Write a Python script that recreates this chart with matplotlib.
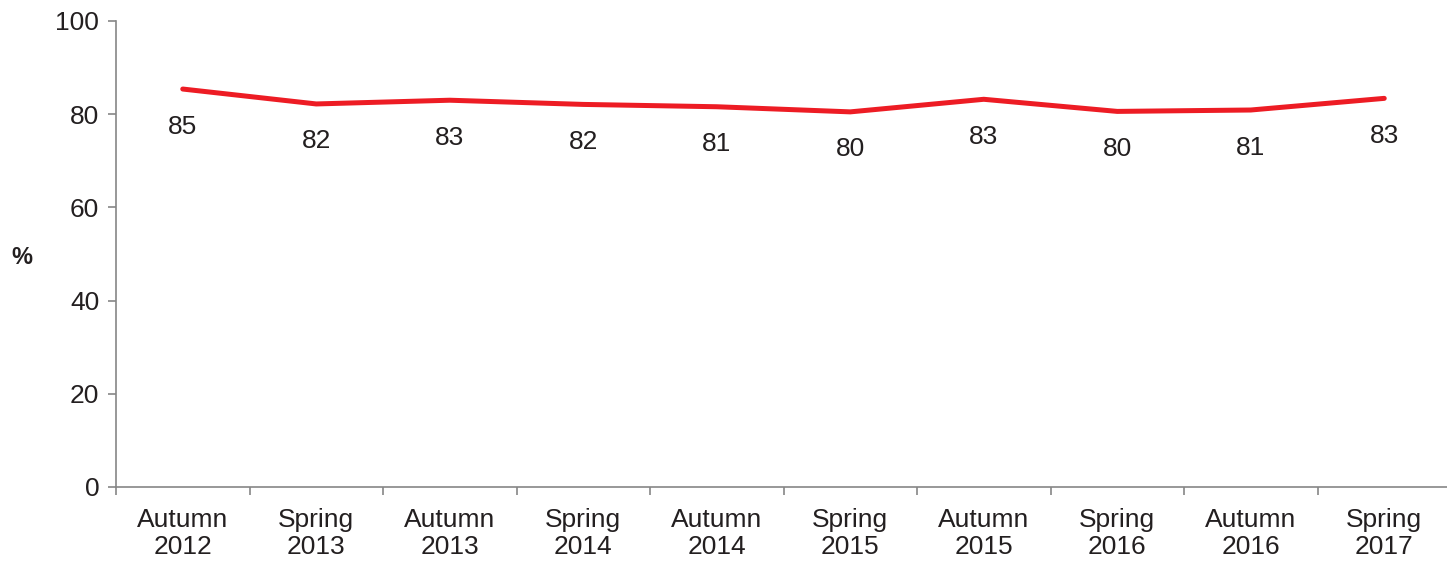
import matplotlib
matplotlib.use('Agg')
import matplotlib.pyplot as plt
import numpy as np

seasons = ['Autumn\n2012', 'Spring\n2013', 'Autumn\n2013', 'Spring\n2014', 'Autumn\n2014',
           'Spring\n2015', 'Autumn\n2015', 'Spring\n2016', 'Autumn\n2016', 'Spring\n2017']
values = [85.4, 82.2, 83.0, 82.1, 81.6, 80.5, 83.2, 80.6, 80.9, 83.4]
labels = ['85', '82', '83', '82', '81', '80', '83', '80', '81', '83']

txt = '#231f20'
axis_col = '#868686'
red = '#ed1c24'

plt.rcParams.update({
    'font.family': ['Liberation Sans', 'DejaVu Sans'],
    'font.size': 19,
    'text.color': txt,
    'xtick.color': axis_col,
    'ytick.color': axis_col,
    'xtick.labelcolor': txt,
    'ytick.labelcolor': txt,
})

fig = plt.figure(figsize=(14.47, 5.62), dpi=100)
ax = fig.add_axes([116 / 1447, 1 - 487 / 562, 1335 / 1447, (487 - 21) / 562])

x = np.arange(len(seasons))
ax.plot(x, values, color=red, lw=3.6, solid_capstyle='round', solid_joinstyle='round')
for xi, v, lab in zip(x, values, labels):
    ax.annotate(lab, (xi, v), xytext=(0, -27), textcoords='offset points',
                ha='center', va='center', fontsize=19, color=txt)

ax.set_xlim(-0.5, len(seasons) - 0.5)
ax.set_ylim(0, 100)
ax.set_yticks(range(0, 101, 20))

ax.set_xticks(x)
ax.set_xticklabels(seasons, linespacing=1.15)
ax.set_xticks(np.arange(-0.5, len(seasons) - 0.5, 1), minor=True)
ax.tick_params(axis='x', which='major', length=0, pad=15)
ax.tick_params(axis='x', which='minor', length=6, width=1.2, direction='out')
ax.tick_params(axis='y', length=6, width=1.2, direction='out', pad=6)

for s in ['top', 'right']:
    ax.spines[s].set_visible(False)
for s in ['left', 'bottom']:
    ax.spines[s].set_color(axis_col)
    ax.spines[s].set_linewidth(1.2)

fig.text(22 / 1447, 1 - 258 / 562, '%', fontweight='bold', fontsize=17, ha='center', va='center')

fig.savefig('out.png', dpi=100)
